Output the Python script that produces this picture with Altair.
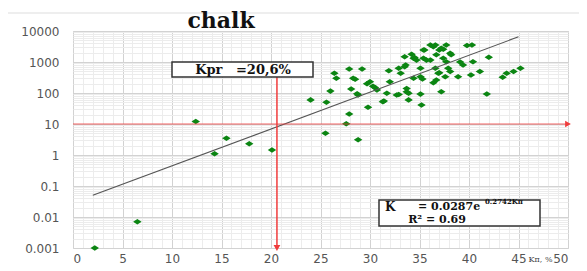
import altair as alt
import pandas as pd

# ---- data ----
kp = [2.2, 6.5, 12.4, 14.3, 15.5, 17.8, 20.1, 25.5, 28.8, 24.0,
      25.6, 26.0, 27.9, 27.6, 29.8, 31.4, 32.9, 33.7, 35.1, 35.2,
      28.7, 26.4, 26.6, 27.9, 29.2, 28.1, 28.5, 29.7, 30.0, 30.5,
      30.7, 31.9, 32.9, 33.1, 33.6, 33.5, 34.2, 34.5, 34.7, 35.1,
      35.1, 35.3, 35.5, 35.7, 36.1, 36.4, 36.7, 37.0, 37.4, 37.7,
      37.4, 38.1, 36.7, 36.4, 37.0, 37.2, 37.9, 38.1, 39.1, 39.4,
      38.9, 39.8, 40.3, 40.4, 40.2, 41.1, 41.8, 42.0, 43.4, 43.8,
      44.5, 45.2, 33.9, 34.4, 35.4, 36.1, 33.5, 36.6, 37.7, 36.9,
      37.6, 34.4, 32.0, 28.3, 28.8, 31.7, 33.7, 31.3, 36.6, 37.2,
      35.4, 38.2, 30.3, 32.7, 33.9]
k = [0.001, 0.007, 12, 1.1, 3.5, 2.3, 1.45, 5, 3.1, 60,
     50, 115, 21, 10.2, 35, 55, 90, 110, 92, 41,
     95, 430, 300, 590, 590, 135, 280, 200, 230, 150,
     125, 525, 630, 430, 800, 1480, 1780, 1400, 1150, 630,
     335, 282, 2450, 1150, 3550, 3100, 1700, 2450, 2600, 3550,
     1320, 1900, 263, 215, 450, 110, 630, 490, 1000, 800,
     335, 3400, 3550, 1020, 380, 490, 93, 1420, 320, 430,
     490, 630, 60, 1320, 1320, 1150, 700, 630, 1020, 430,
     335, 300, 230, 300, 86, 98, 140, 52, 3550, 2800,
     2450, 1700, 165, 86, 98]

trend_kp = [2, 45]
trend_k = [0.05, 6500]

kpr = 20.6
k_threshold = 10
x_ticks = [0, 5, 10, 15, 20, 25, 30, 35, 40, 45, 50]
y_ticks = [0.001, 0.01, 0.1, 1, 10, 100, 1000, 10000]

# ---- helpers ----
x_minor = [v for v in range(1, 50) if v % 5 != 0]
y_minor = [m * 10.0 ** e for e in range(-3, 4) for m in range(2, 10)]

xscale = alt.Scale(domain=[0, 50], nice=False, zero=False)
yscale = alt.Scale(type="log", domain=[0.001, 10000], nice=False)

LABEL_FONT = "DejaVu Sans"
SERIF = "DejaVu Serif"
NB = "\u00a0"

pts = pd.DataFrame({"kp": kp, "k": k})

# minor grid layer (invisible points, grid-only axes)
minor = alt.Chart(pts).mark_point(opacity=0).encode(
    x=alt.X("kp:Q", scale=xscale, axis=alt.Axis(
        orient="top", values=x_minor, labels=False, ticks=False, domain=False,
        grid=True, gridColor="#ececec", gridWidth=1, title=None)),
    y=alt.Y("k:Q", scale=yscale, axis=alt.Axis(
        orient="right", values=y_minor, labels=False, ticks=False, domain=False,
        grid=True, gridColor="#ececec", gridWidth=1, title=None)),
)

diamond = "M-1,0L0,-0.65L1,0L0,0.65Z"
points = alt.Chart(pts).mark_point(
    shape=diamond, filled=True, color="#0b8512", size=72, opacity=1
).encode(
    x=alt.X("kp:Q", scale=xscale, axis=alt.Axis(
        orient="bottom", values=x_ticks, grid=True, gridColor="#d2d2d2",
        domain=False, ticks=False, labelFont=LABEL_FONT, labelFontSize=12,
        labelColor="#555555", labelPadding=5,
        title="Kп, %", titleFont=SERIF, titleFontSize=8, titleFontWeight="normal",
        titleColor="#444444", titleX=467, titleY=7, titleAlign="center",
        titleBaseline="top")),
    y=alt.Y("k:Q", scale=yscale, axis=alt.Axis(
        orient="left", values=y_ticks, format="~g", grid=True, gridColor="#d2d2d2",
        domain=False, ticks=False, labelFont=LABEL_FONT, labelFontSize=12,
        labelColor="#555555", labelPadding=14, title=None)),
)

trend = alt.Chart(pd.DataFrame({"kp": trend_kp, "k": trend_k})).mark_line(
    color="#555555", strokeWidth=1.1
).encode(
    x=alt.X("kp:Q", scale=xscale, axis=None),
    y=alt.Y("k:Q", scale=yscale, axis=None),
)

red = "#f03c3c"
hline = alt.Chart(pd.DataFrame({"kp": [0], "kp2": [50], "k": [k_threshold]})).mark_rule(
    color=red, strokeWidth=1.2, opacity=0.8
).encode(
    x=alt.X("kp:Q", scale=xscale, axis=None), x2="kp2:Q",
    y=alt.Y("k:Q", scale=yscale, axis=None),
)
vline = alt.Chart(pd.DataFrame({"kp": [kpr], "k": [0.001], "k2": [1000]})).mark_rule(
    color=red, strokeWidth=1.5
).encode(
    x=alt.X("kp:Q", scale=xscale, axis=None),
    y=alt.Y("k:Q", scale=yscale, axis=None), y2="k2:Q",
)
arrow_r = alt.Chart(pd.DataFrame({"kp": [50], "k": [k_threshold]})).mark_point(
    shape="triangle-right", filled=True, color=red, size=45, opacity=1
).encode(
    x=alt.X("kp:Q", scale=xscale, axis=None),
    y=alt.Y("k:Q", scale=yscale, axis=None),
)
arrow_d = alt.Chart(pd.DataFrame({"kp": [kpr], "k": [0.001]})).mark_point(
    shape="triangle-down", filled=True, color=red, size=45, opacity=1
).encode(
    x=alt.X("kp:Q", scale=xscale, axis=None),
    y=alt.Y("k:Q", scale=yscale, axis=None),
)

one = pd.DataFrame({"a": [0]})

# page artefact line at the very top
topline = alt.Chart(one).mark_rule(color="#dddddd", strokeWidth=1).encode(
    x=alt.value(-65), x2=alt.value(514), y=alt.value(-18))

title = alt.Chart(one).mark_text(
    text="chalk", font=SERIF, fontSize=22, fontWeight="bold", color="#111111",
    align="center", baseline="alphabetic"
).encode(x=alt.value(148), y=alt.value(-3))

box1 = alt.Chart(one).mark_rect(fill="white", stroke="#333333", strokeWidth=1.5).encode(
    x=alt.value(99), x2=alt.value(240), y=alt.value(31), y2=alt.value(46))
box1_text = alt.Chart(one).mark_text(
    text="Kpr" + NB * 3 + "=20,6%", font=SERIF, fontSize=13, fontWeight="bold",
    color="#111111", align="center", baseline="middle"
).encode(x=alt.value(170), y=alt.value(39))

box2 = alt.Chart(one).mark_rect(fill="white", stroke="#333333", strokeWidth=1.5).encode(
    x=alt.value(306), x2=alt.value(467), y=alt.value(169), y2=alt.value(195))
t_k = alt.Chart(one).mark_text(
    text="K", font=SERIF, fontSize=12, fontWeight="bold", color="#111111",
    align="left", baseline="middle").encode(x=alt.value(312), y=alt.value(176))
t_eq = alt.Chart(one).mark_text(
    text="= 0.0287e", font=SERIF, fontSize=11, fontWeight="bold", color="#111111",
    align="left", baseline="middle").encode(x=alt.value(345), y=alt.value(176))
t_sup = alt.Chart(one).mark_text(
    text="0.2742Kп", font=SERIF, fontSize=7, fontWeight="bold", color="#111111",
    align="left", baseline="middle").encode(x=alt.value(412), y=alt.value(171))
t_r2 = alt.Chart(one).mark_text(
    text="R² = 0.69", font=SERIF, fontSize=11, fontWeight="bold", color="#111111",
    align="center", baseline="middle").encode(x=alt.value(364), y=alt.value(189))

chart = alt.layer(
    minor, points, trend, hline, vline, arrow_r, arrow_d,
    topline, title, box1, box1_text, box2, t_k, t_eq, t_sup, t_r2,
).resolve_axis(x="independent", y="independent").properties(
    width=495, height=217,
    autosize=alt.AutoSizeParams(type="none"),
    padding={"left": 65, "top": 23, "right": 11, "bottom": 16},
).configure_view(stroke=None).configure(background="white")

chart.save("out.html", embed_options={"renderer": "svg", "actions": False})
